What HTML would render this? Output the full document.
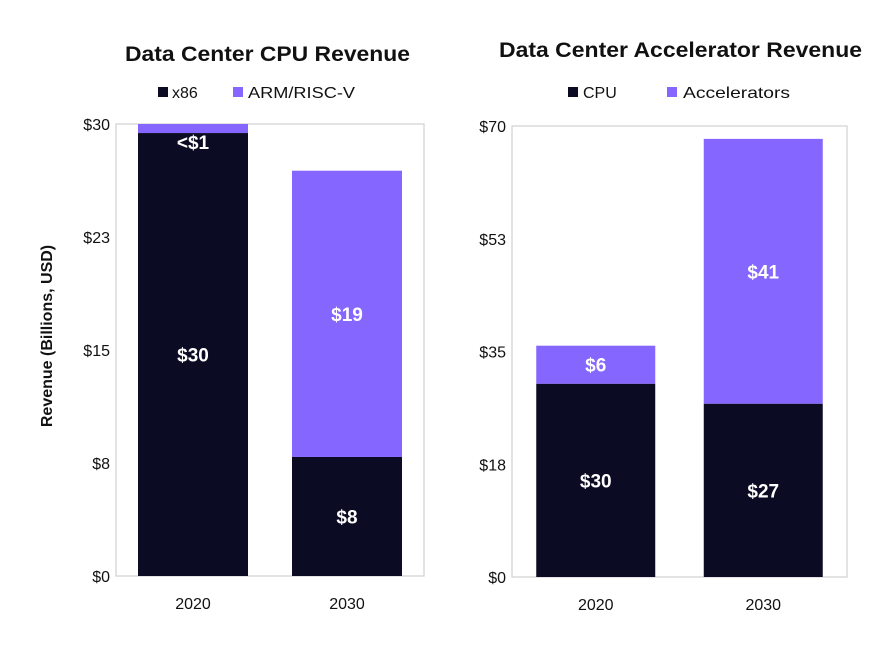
<!DOCTYPE html>
<html><head><meta charset="utf-8"><style>
body{margin:0;background:#fff;font-family:"Liberation Sans",sans-serif}
svg text{font-family:"Liberation Sans",sans-serif}
</style></head><body>
<svg id="c" width="889" height="646" viewBox="0 0 889 646">
<text x="125" y="61" textLength="285" lengthAdjust="spacingAndGlyphs" font-size="21" font-weight="bold" fill="#111">Data Center CPU Revenue</text>
<text x="499" y="57" textLength="363" lengthAdjust="spacingAndGlyphs" font-size="21" font-weight="bold" fill="#111">Data Center Accelerator Revenue</text>
<g>
<rect x="158" y="87" width="10" height="10" fill="#0b0b24"/>
<text x="172" y="98" font-size="16" fill="#111">x86</text>
<rect x="233" y="87" width="10" height="10" fill="#8566ff"/>
<text x="248" y="98" textLength="107" lengthAdjust="spacingAndGlyphs" font-size="16" fill="#111">ARM/RISC-V</text>
</g>
<g>
<rect x="568" y="87" width="10" height="10" fill="#0b0b24"/>
<text x="583" y="98" font-size="16" fill="#111">CPU</text>
<rect x="667" y="87" width="10" height="10" fill="#8566ff"/>
<text x="683" y="98" textLength="107" lengthAdjust="spacingAndGlyphs" font-size="16" fill="#111">Accelerators</text>
</g>
<text transform="translate(52,336) rotate(-90)" text-anchor="middle" font-size="16" font-weight="bold" fill="#111">Revenue (Billions, USD)</text>
</svg>
<script>
const categories = ["2020","2030"];
const cpuX86 = [29.4, 7.9];
const cpuArm = [0.6, 19.0];
const cpuLabelsBottom = ["$30","$8"];
const cpuLabelsTop = ["<$1","$19"];
const cpuTicks = ["$0","$8","$15","$23","$30"];
const cpuMax = 30;
const accCpu = [30.0, 26.9];
const accAcc = [5.9, 41.1];
const accLabelsBottom = ["$30","$27"];
const accLabelsTop = ["$6","$41"];
const accTicks = ["$0","$18","$35","$53","$70"];
const accMax = 70;

const svg = document.getElementById('c');
const NS = 'http://www.w3.org/2000/svg';
function mk(tag, attrs){const e=document.createElementNS(NS,tag);for(const k in attrs)e.setAttribute(k,attrs[k]);svg.appendChild(e);return e;}

function drawChart(p, prefix, bottom, top, lb, lt, ticks, max){
  const frame = mk('rect',{x:p.x0,y:p.y0,width:p.x1-p.x0,height:p.y1-p.y0,fill:'none',stroke:'#d0d0d0','stroke-width':1.2});
  
  
  const yS = v => p.y1 - v/max*(p.y1-p.y0);
  ticks.forEach((t,i)=>{
    const v = i*max/(ticks.length-1);
    const tx = mk('text',{x:p.x0-6,y:yS(v)+6,'text-anchor':'end','font-size':16,fill:'#111'});
    tx.textContent = t;
    
    
  });
  const slot = (p.x1-p.x0)/categories.length;
  categories.forEach((c,i)=>{
    const cx = p.x0 + slot*(i+0.5);
    const x = cx - p.bw/2;
    const b = mk('rect',{x:x,y:yS(bottom[i]),width:p.bw,height:yS(0)-yS(bottom[i]),fill:'#0b0b24'});
    
    
    const tp = mk('rect',{x:x,y:yS(bottom[i]+top[i]),width:p.bw,height:yS(bottom[i])-yS(bottom[i]+top[i]),fill:'#8566ff'});
    
    
    const l1 = mk('text',{x:cx,y:(yS(0)+yS(bottom[i]))/2+7,'text-anchor':'middle','font-size':19,'font-weight':'bold',fill:'#fff'});
    l1.textContent = lb[i];
    
    
    const segH = yS(bottom[i])-yS(bottom[i]+top[i]);
    const ly = segH < 20 ? yS(bottom[i])+16 : (yS(bottom[i])+yS(bottom[i]+top[i]))/2+7;
    const l2 = mk('text',{x:cx,y:ly,'text-anchor':'middle','font-size':19,'font-weight':'bold',fill:'#fff'});
    l2.textContent = lt[i];
    
    
    const xl = mk('text',{x:cx,y:p.y1+33,'text-anchor':'middle','font-size':16,fill:'#111'});
    xl.textContent = c;
    
    
  });
}
drawChart({x0:116,x1:424,y0:124,y1:576,bw:110}, 'cpu', cpuX86, cpuArm, cpuLabelsBottom, cpuLabelsTop, cpuTicks, cpuMax);
drawChart({x0:512,x1:847,y0:126,y1:577,bw:119}, 'acc', accCpu, accAcc, accLabelsBottom, accLabelsTop, accTicks, accMax);
</script>
</body></html>
